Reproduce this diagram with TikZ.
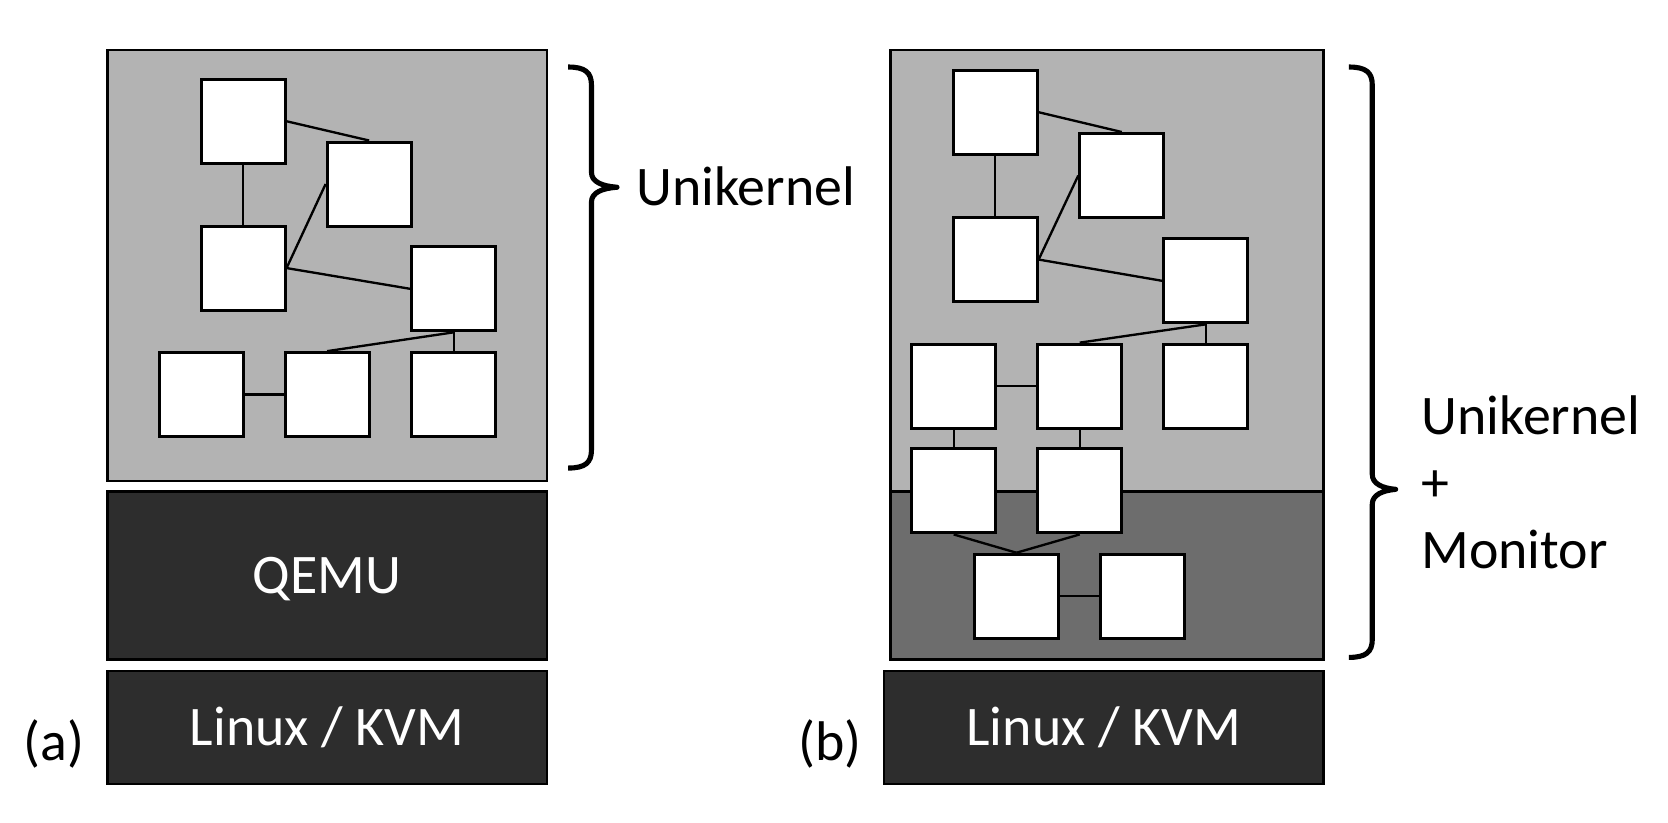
\documentclass[tikz,border=0pt]{standalone}
\usepackage{fontspec}
\setmainfont{Carlito}
\usetikzlibrary{positioning}

\definecolor{lightlayer}{HTML}{B3B3B3}
\definecolor{midlayer}{HTML}{6D6D6D}
\definecolor{darklayer}{HTML}{2D2D2D}

\begin{document}
\begin{tikzpicture}[x=1pt,y=-1pt,
    comp/.style={draw,fill=white,line width=2.8pt,minimum size=79pt,inner sep=0pt},
    link/.style={line width=2.2pt},
    hostbox/.style={draw,line width=2.2pt,inner sep=0pt,text=white,
        font=\fontsize{52.5}{62}\selectfont,text height=34pt,text depth=0pt},
    caption/.style={font=\fontsize{52.5}{63}\selectfont,inner sep=0pt},
    curly/.style={line width=4.8pt,line join=round}
    ]

    \useasboundingbox (0,0) rectangle (1568,773);

    % (a) unikernel on QEMU
    \node[hostbox,fill=lightlayer,minimum width=413pt,minimum height=405pt] (uka) at (307.5,249.5) {};
    \node[hostbox,fill=darklayer,minimum width=413pt,minimum height=158pt] (qemu) at (307.5,541) {QEMU};
    \node[hostbox,fill=darklayer,minimum width=413pt,minimum height=106pt] (kvma) at (307.5,684) {Linux / KVM};

    \node[comp] (a1) at (228.5,114) {};
    \node[comp] (a2) at (347,173) {};
    \node[comp] (a3) at (228.5,252) {};
    \node[comp] (a4) at (426.5,271.5) {};
    \node[comp] (a5) at (189,371) {};
    \node[comp] (a6) at (307.5,371) {};
    \node[comp] (a7) at (426.5,371) {};

    \draw[link] (a1.east) -- (a2.north);
    \draw[link] (a1.south) -- (a3.north);
    \draw[link] (a3.east) -- (a2.west);
    \draw[link] (a3.east) -- (a4.west);
    \draw[link] (a4.south) -- (a6.north);
    \draw[link] (a4.south) -- (a7.north);
    \draw[link] (a5.east) -- (a6.west);

    \draw[curly] (534,63) .. controls (550,63) and (556,68) .. (556,80) -- (556,162)
        .. controls (556,171) and (566,175) .. (580,176)
        .. controls (566,177) and (556,181) .. (556,190) -- (556,423)
        .. controls (556,435) and (550,440) .. (534,440);
    \node[caption,anchor=base west] (txta) at (598,193) {Unikernel};
    \node[caption,anchor=base] (taga) at (51,715) {(a)};

    % (b) unikernel with its own monitor
    \node[hostbox,fill=lightlayer,minimum width=407pt,minimum height=415pt] (ukb) at (1040.5,254.5) {};
    \node[hostbox,fill=midlayer,minimum width=407pt,minimum height=158pt] (mon) at (1040.5,541) {};
    \node[hostbox,fill=darklayer,minimum width=413pt,minimum height=106pt] (kvmb) at (1037.5,684) {Linux / KVM};

    \node[comp] (b1) at (935.5,105.5) {};
    \node[comp] (b2) at (1054.5,165) {};
    \node[comp] (b3) at (935.5,244) {};
    \node[comp] (b4) at (1133.5,264) {};
    \node[comp] (b5) at (896.5,363) {};
    \node[comp] (b6) at (1015,363) {};
    \node[comp] (b7) at (1133.5,363) {};
    \node[comp] (b8) at (896.5,461.5) {};
    \node[comp] (b9) at (1015,461.5) {};
    \node[comp] (b10) at (955.5,560.5) {};
    \node[comp] (b11) at (1074,560.5) {};

    \draw[link] (b1.east) -- (b2.north);
    \draw[link] (b1.south) -- (b3.north);
    \draw[link] (b3.east) -- (b2.west);
    \draw[link] (b3.east) -- (b4.west);
    \draw[link] (b4.south) -- (b6.north);
    \draw[link] (b4.south) -- (b7.north);
    \draw[link] (b5.east) -- (b6.west);
    \draw[link] (b5.south) -- (b8.north);
    \draw[link] (b6.south) -- (b9.north);
    \draw[link] (b8.south) -- (b10.north);
    \draw[link] (b9.south) -- (b10.north);
    \draw[link] (b10.east) -- (b11.west);

    \draw[curly] (1268,63) .. controls (1284,63) and (1290,68) .. (1290,80) -- (1290,446)
        .. controls (1290,455) and (1300,459) .. (1312,460)
        .. controls (1300,461) and (1290,465) .. (1290,474) -- (1290,601)
        .. controls (1290,613) and (1284,618) .. (1268,618);
    \node[caption,anchor=west,align=left] (txtb) at (1336,453) {Unikernel\\+\\Monitor};
    \node[caption,anchor=base] (tagb) at (780,715) {(b)};

\end{tikzpicture}
\end{document}
